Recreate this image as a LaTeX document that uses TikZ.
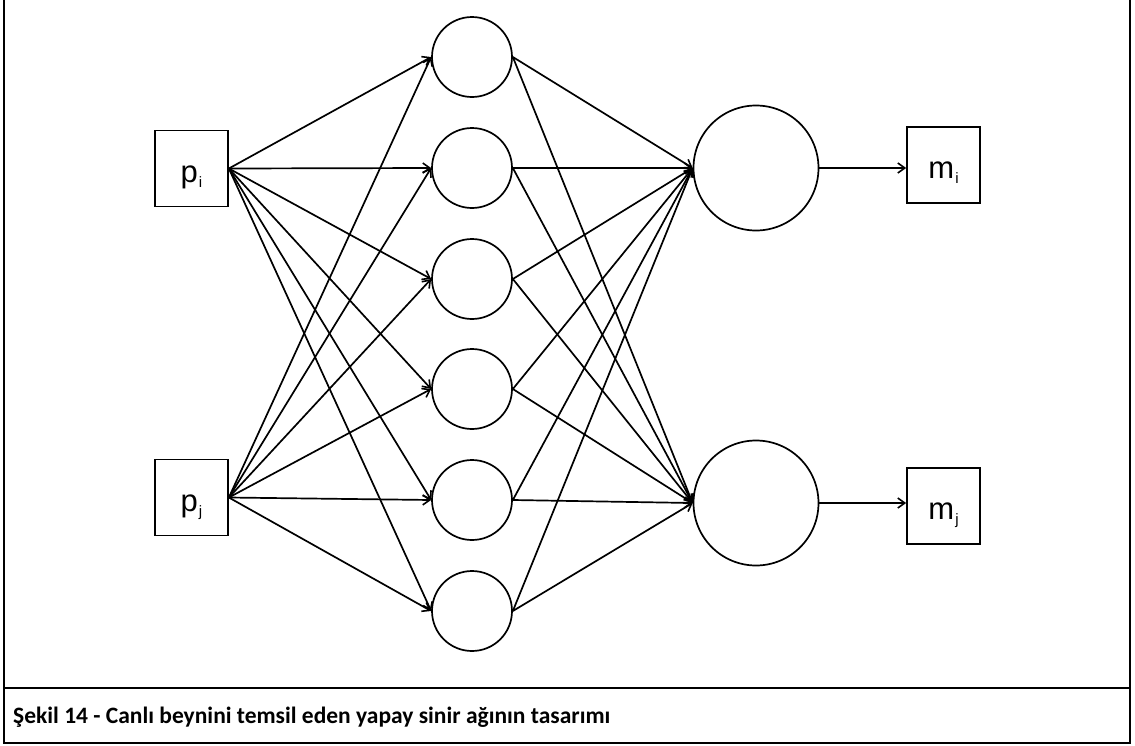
\documentclass[tikz,border=0pt]{standalone}
\usepackage{fontspec}
\setmainfont{Liberation Sans}
\newfontfamily\capfont{Carlito}
\usetikzlibrary{arrows.meta}

\newcommand{\unitlabel}[2]{{\fontsize{31}{36}\selectfont #1}\kern1pt\raisebox{-5pt}{\fontsize{15}{18}\selectfont #2}}

\begin{document}
\begin{tikzpicture}[x=1pt,y=-1pt,
  unitbox/.style={draw, line width=1.7pt, minimum width=73pt, minimum height=76pt, inner sep=0pt},
  unittext/.style={anchor=base, inner sep=0pt},
  hidden/.style={draw, circle, line width=1.7pt, minimum size=80pt, inner sep=0pt},
  outnode/.style={draw, circle, line width=1.7pt, minimum size=125pt, inner sep=0pt},
  link/.style={line width=1.7pt, -{Straight Barb[length=7pt,width=10pt,line width=1.6pt]}},
  frameline/.style={line width=2.4pt}]
\useasboundingbox (0,0) rectangle (1135,745);

% frame and caption cell
\draw[frameline] (4,-2) -- (4,743) -- (1130,743) -- (1130,-2);
\draw[frameline] (4,688) -- (1130,688);
\node[anchor=base west, inner sep=0pt, font=\capfont\bfseries\fontsize{23.5}{28}\selectfont]
  (cap) at (13,723) {Şekil 14 - Canlı beynini temsil eden yapay sinir ağının tasarımı};

% input units
\node[unitbox] (pi) at (191.5,168.5) {};
\node[unitbox] (pj) at (191.5,497.5) {};
\node[unittext] (pitext) at ([yshift=-14pt]pi.center) {\unitlabel{p}{i}};
\node[unittext] (pjtext) at ([yshift=-14pt]pj.center) {\unitlabel{p}{j}};

% hidden layer
\node[hidden] (h1) at (472,57) {};
\node[hidden] (h2) at (472,168) {};
\node[hidden] (h3) at (472,279) {};
\node[hidden] (h4) at (472,389) {};
\node[hidden] (h5) at (472,500) {};
\node[hidden] (h6) at (472,611) {};

% output layer
\node[outnode] (o1) at (756,168) {};
\node[outnode] (o2) at (756,503) {};

% output units
\node[unitbox] (mi) at (943.5,165) {};
\node[unitbox] (mj) at (943.5,506) {};
\node[unittext] (mitext) at ([yshift=-13pt]mi.center) {\unitlabel{m}{i}};
\node[unittext] (mjtext) at ([yshift=-13pt]mj.center) {\unitlabel{m}{j}};

% input -> hidden
\foreach \h in {h1,h2,h3,h4,h5,h6} {
  \draw[link] (pi.east) -- (\h.west);
  \draw[link] (pj.east) -- (\h.west);
}
% hidden -> output
\foreach \h in {h1,h2,h3,h4,h5,h6} {
  \draw[link] (\h.east) -- (o1.west);
  \draw[link] (\h.east) -- (o2.west);
}
% output -> output units
\draw[link] (o1.east) -- (mi.west |- o1.east);
\draw[link] (o2.east) -- (mj.west |- o2.east);
\end{tikzpicture}
\end{document}
